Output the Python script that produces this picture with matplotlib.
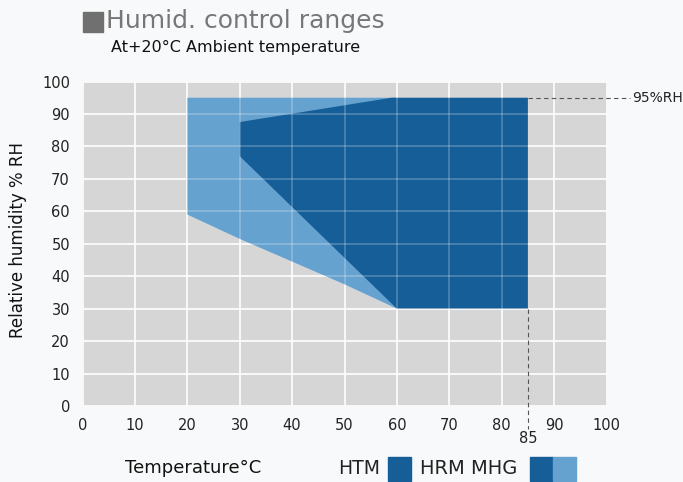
import matplotlib.pyplot as plt
from matplotlib.patches import Rectangle

# humidity ranges, (temperature C, RH %)
mhg_temp = [20, 59, 60, 60, 50, 40, 30, 20]
mhg_rh = [95, 95, 95, 30, 37.5, 44.5, 51.5, 59]

htm_temp = [30, 59, 85, 85, 60, 30]
htm_rh = [87.5, 95, 95, 30, 30, 77]

x_ticks = [0, 10, 20, 30, 40, 50, 60, 70, 80, 90, 100]
y_ticks = [0, 10, 20, 30, 40, 50, 60, 70, 80, 90, 100]
max_temp = 85
max_rh = 95
min_rh = 30

dark = '#155e98'
light = '#66a2d0'
grey_bg = '#d6d6d7'

fig = plt.figure(figsize=(6.83, 4.82), dpi=100)
fig.patch.set_facecolor('#f8f9fa')
ax = fig.add_axes([82.5 / 683, 1 - 406 / 482, 524 / 683, 324.5 / 482])
ax.set_facecolor(grey_bg)

ax.fill(mhg_temp, mhg_rh, color=light, lw=0, zorder=2)
ax.fill(htm_temp, htm_rh, color=dark, lw=0, zorder=3)

ax.set_xlim(0, 100)
ax.set_ylim(0, 100)
ax.set_xticks(x_ticks)
ax.set_yticks(y_ticks)
ax.set_axisbelow(True)
ax.grid(True, color='white', lw=1.3, alpha=0.85)
# faint grid showing through the ranges
for t in x_ticks:
    ax.axvline(t, color='white', lw=1.2, alpha=0.25, zorder=4)
for t in y_ticks:
    ax.axhline(t, color='white', lw=1.2, alpha=0.25, zorder=4)
for s in ax.spines.values():
    s.set_visible(False)
ax.tick_params(length=0, labelsize=10.5, colors='#222222', pad=9)

# dashed markers for the limits
ax.plot([max_temp, 104.5], [max_rh, max_rh], ls=(0, (4, 3)), color='#555555',
        lw=0.8, clip_on=False, zorder=5)
ax.plot([max_temp, max_temp], [min_rh, -7], ls=(0, (4, 3)), color='#555555',
        lw=0.8, clip_on=False, zorder=5)
ax.text(104.8, max_rh, '95%RH', va='center', ha='left', fontsize=10, color='#222222')
ax.text(max_temp, -7.8, '85', va='top', ha='center', fontsize=10.5, color='#222222')

# title
fig.patches.append(Rectangle((83 / 683, 1 - 32 / 482), 20 / 683, 20 / 482,
                             transform=fig.transFigure, color='#707070'))
fig.text(106 / 683, 1 - 21 / 482, 'Humid. control ranges', fontsize=18,
         color='#777777', va='center', ha='left')
fig.text(111 / 683, 1 - 47 / 482, 'At+20°C Ambient temperature', fontsize=11.5,
         color='#111111', va='center', ha='left')

fig.text(18 / 683, 1 - 240 / 482, 'Relative humidity % RH', rotation=90,
         fontsize=12, color='#111111', va='center', ha='center')
fig.text(125 / 683, 1 - 468 / 482, 'Temperature°C', fontsize=13,
         color='#111111', va='center', ha='left')

# legend
fig.text(338 / 683, 1 - 468 / 482, 'HTM', fontsize=13.5, color='#222222',
         va='center', ha='left')
fig.text(420 / 683, 1 - 468 / 482, 'HRM MHG', fontsize=14, color='#222222',
         va='center', ha='left')
for x0, c in [(388, dark), (530, dark), (553, light)]:
    fig.patches.append(Rectangle((x0 / 683, 1 - 481 / 482), 23 / 683, 24 / 482,
                                 transform=fig.transFigure, color=c))

fig.savefig('out.png', dpi=100, facecolor=fig.get_facecolor())
